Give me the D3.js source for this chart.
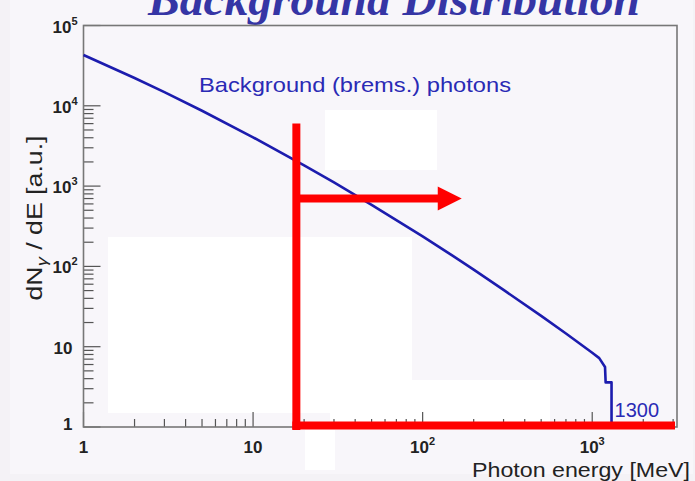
<!DOCTYPE html>
<html>
<head>
<meta charset="utf-8">
<script src="https://cdn.jsdelivr.net/npm/d3@7"></script>
<style>
  body { margin: 0; background: #f4f2f6; }
  text { font-family: Arial, "Liberation Sans", sans-serif; }
</style>
</head>
<body>
<div id="chart"></div>
<script>
// Photon energy spectrum (MeV vs. a.u.)
const energy = [1, 2, 3, 5, 10, 20, 30, 50, 100, 150, 200, 300, 500, 700, 1000, 1100, 1190, 1200, 1300, 1300];
const counts = [42900, 22200, 14800, 8680, 4050, 1810, 1110, 584, 236, 136, 91, 51, 24.2, 14.6, 8.4, 7.2, 5.6, 3.6, 3.6, 1];

const xTicks = [1, 10, 100, 1000];
const xTickLabels = ['1', '10', '10|2', '10|3'];
const yTicks = [1, 10, 100, 1000, 10000, 100000];
const yTickLabels = ['1', '10', '10|2', '10|3', '10|4', '10|5'];

// red hand-drawn markers: cut at 18 MeV, arrow at ~700
const cutEnergy = 18;
const cutTop = 6000;
const arrowLevel = 700;
const arrowEnd = 170;

const W = 695, H = 481;
const margin = { top: 25.5, right: 18, bottom: 54, left: 83.5 };
const width = W - margin.left - margin.right;
const height = H - margin.top - margin.bottom;

const svg = d3.select('#chart')
    .append('svg')
    .attr('width', W)
    .attr('height', H);

// panel background
svg.append('rect')
    .attr('x', 10).attr('y', 0)
    .attr('width', 683).attr('height', 474)
    .attr('fill', '#f8f6fa');

// title, cut off at the top edge like on the slide
svg.append('text')
    .attr('x', 148).attr('y', 15)
    .attr('textLength', 492)
    .attr('lengthAdjust', 'spacingAndGlyphs')
    .style('font-family', '"Liberation Serif", "DejaVu Serif", serif')
    .style('font-style', 'italic')
    .style('font-weight', 'bold')
    .style('font-size', '46px')
    .attr('fill', '#3535a5')
    .text('Background Distribution');

// white erased patches from the original slide
const patches = [
    [108, 237, 304, 176],
    [325, 110, 112, 60],
    [330, 380, 220, 42],
    [305, 430, 30, 40]
];
svg.selectAll('.patch')
    .data(patches)
    .enter()
    .append('rect')
    .attr('x', d => d[0]).attr('y', d => d[1])
    .attr('width', d => d[2]).attr('height', d => d[3])
    .attr('fill', '#ffffff');

const g = svg.append('g')
    .attr('transform', 'translate(' + margin.left + ',' + margin.top + ')');

const x = d3.scaleLog()
    .domain([1, Math.pow(10, 3.5)])
    .range([0, width]);

const y = d3.scaleLog()
    .domain([1, 1e5])
    .range([height, 0]);

// minor ticks
const minorX = [];
const minorY = [];
for (let d = 1; d <= 1000; d *= 10) {
    for (let k = 2; k <= 9; k++) {
        if (d * k <= x.domain()[1]) minorX.push(d * k);
        if (d * k < 1e5) minorY.push(d * k);
    }
}

const axisColor = '#555';

g.selectAll('.xminor')
    .data(minorX)
    .enter()
    .append('line')
    .attr('x1', d => x(d)).attr('x2', d => x(d))
    .attr('y1', height).attr('y2', height - 8)
    .attr('stroke', axisColor).attr('stroke-width', 1.2);

g.selectAll('.xmajor')
    .data(xTicks)
    .enter()
    .append('line')
    .attr('x1', d => x(d)).attr('x2', d => x(d))
    .attr('y1', height).attr('y2', height - 15)
    .attr('stroke', axisColor).attr('stroke-width', 1.2);

g.selectAll('.yminor')
    .data(minorY)
    .enter()
    .append('line')
    .attr('x1', 0).attr('x2', 10)
    .attr('y1', d => y(d)).attr('y2', d => y(d))
    .attr('stroke', axisColor).attr('stroke-width', 1.2);

g.selectAll('.ymajor')
    .data(yTicks)
    .enter()
    .append('line')
    .attr('x1', 0).attr('x2', 17)
    .attr('y1', d => y(d)).attr('y2', d => y(d))
    .attr('stroke', axisColor).attr('stroke-width', 1.2);

// frame
g.append('rect')
    .attr('width', width).attr('height', height)
    .attr('fill', 'none')
    .attr('stroke', '#777')
    .attr('stroke-width', 1.6);

// tick labels ("10|2" means 10 with superscript 2)
function tickLabel(sel) {
    sel.each(function (d) {
        const parts = d.split('|');
        const t = d3.select(this);
        t.append('tspan').text(parts[0]);
        if (parts[1]) {
            t.append('tspan')
                .attr('dy', -8)
                .style('font-size', '11px')
                .text(parts[1]);
        }
    });
}

g.selectAll('.xlabel')
    .data(xTicks)
    .enter()
    .append('text')
    .attr('x', d => x(d))
    .attr('y', height + 26)
    .attr('text-anchor', 'middle')
    .style('font-size', '17px')
    .style('font-weight', 'bold')
    .attr('fill', '#222')
    .data(xTickLabels)
    .call(tickLabel);

g.selectAll('.ylabel')
    .data(yTicks)
    .enter()
    .append('text')
    .attr('x', (d, i) => yTickLabels[i].includes('|') ? -6 : -11)
    .attr('y', (d, i) => y(d) + (i === 0 ? 3 : 7))
    .attr('text-anchor', 'end')
    .style('font-size', '17px')
    .style('font-weight', 'bold')
    .attr('fill', '#222')
    .data(yTickLabels)
    .call(tickLabel);

// axis titles
svg.append('text')
    .attr('x', 690).attr('y', 477)
    .attr('text-anchor', 'end')
    .attr('textLength', 218)
    .attr('lengthAdjust', 'spacingAndGlyphs')
    .style('font-size', '20px')
    .attr('fill', '#222')
    .text('Photon energy [MeV]');

const yTitle = svg.append('text')
    .attr('transform', 'translate(42,218) rotate(-90)')
    .attr('text-anchor', 'middle')
    .attr('textLength', 165)
    .attr('lengthAdjust', 'spacingAndGlyphs')
    .style('font-size', '22px')
    .attr('fill', '#222');
yTitle.append('tspan').text('dN');
yTitle.append('tspan').attr('dy', 5).style('font-size', '15px').style('font-style', 'italic').text('γ');
yTitle.append('tspan').attr('dy', -5).text(' / dE [a.u.]');

// spectrum line
const points = energy.map((e, i) => [e, counts[i]]);
const line = d3.line()
    .x(d => x(d[0]))
    .y(d => y(d[1]));

g.append('path')
    .datum(points)
    .attr('d', line)
    .attr('fill', 'none')
    .attr('stroke', '#1c1cae')
    .attr('stroke-width', 2.6)
    .attr('stroke-linejoin', 'round');

svg.append('text')
    .attr('x', 199)
    .attr('y', 92)
    .attr('textLength', 312)
    .attr('lengthAdjust', 'spacingAndGlyphs')
    .style('font-size', '21px')
    .attr('fill', '#2a2ab5')
    .text('Background (brems.) photons');

g.append('text')
    .attr('x', x(1300) + 3)
    .attr('y', y(1.35))
    .style('font-size', '20px')
    .attr('fill', '#2a2ab5')
    .text('1300');

// red markers
const red = '#ff0000';
g.append('line')
    .attr('x1', x(cutEnergy)).attr('x2', x(cutEnergy))
    .attr('y1', y(cutTop)).attr('y2', height + 3)
    .attr('stroke', red).attr('stroke-width', 8);

g.append('line')
    .attr('x1', x(cutEnergy) - 4).attr('x2', x(x.domain()[1]) - 2)
    .attr('y1', height - 1.5).attr('y2', height - 1.5)
    .attr('stroke', red).attr('stroke-width', 8);

g.append('line')
    .attr('x1', x(cutEnergy)).attr('x2', x(arrowEnd) - 22)
    .attr('y1', y(arrowLevel)).attr('y2', y(arrowLevel))
    .attr('stroke', red).attr('stroke-width', 8);

g.append('path')
    .attr('d', 'M' + x(arrowEnd) + ',' + y(arrowLevel) +
        'L' + (x(arrowEnd) - 24) + ',' + (y(arrowLevel) - 12) +
        'L' + (x(arrowEnd) - 24) + ',' + (y(arrowLevel) + 12) + 'Z')
    .attr('fill', red);
</script>
</body>
</html>
